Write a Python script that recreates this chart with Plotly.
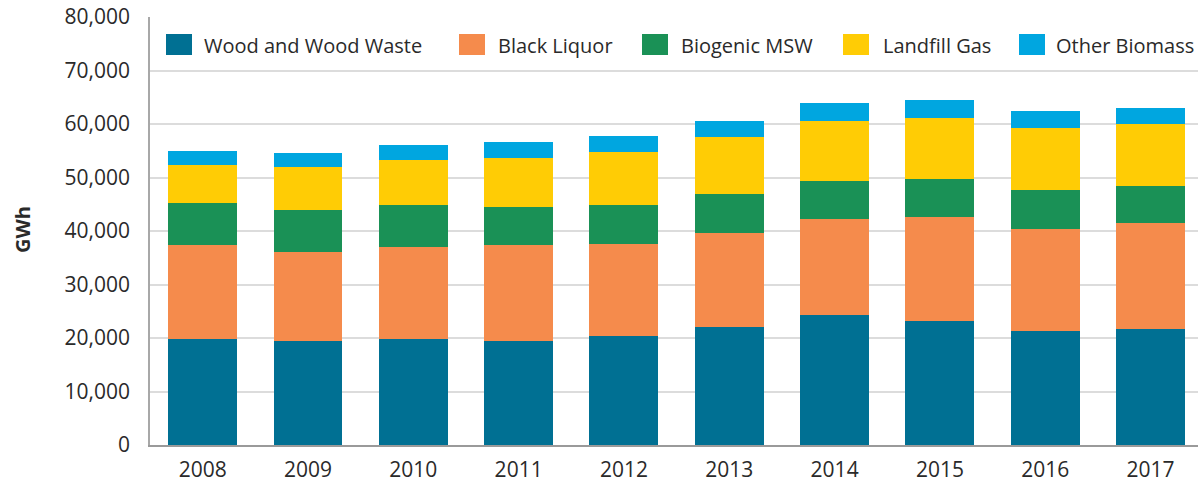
import plotly.graph_objects as go

# Annual biomass electricity generation (GWh), by source
years = ["2008", "2009", "2010", "2011", "2012", "2013", "2014", "2015", "2016", "2017"]

wood_and_wood_waste = [19850, 19480, 19850, 19480, 20290, 21970, 24220, 23220, 21350, 21600]
black_liquor = [17550, 16600, 17230, 17920, 17350, 17730, 18040, 19410, 18980, 19970]
biogenic_msw = [7920, 7800, 7860, 7110, 7300, 7300, 7050, 7060, 7300, 6870]
landfill_gas = [7060, 8120, 8240, 9170, 9800, 10620, 11240, 11360, 11610, 11490]
other_biomass = [2620, 2560, 2810, 2940, 2940, 2990, 3310, 3430, 3180, 3120]

series_names = ["Wood and Wood Waste", "Black Liquor", "Biogenic MSW", "Landfill Gas", "Other Biomass"]
series_values = [wood_and_wood_waste, black_liquor, biogenic_msw, landfill_gas, other_biomass]
series_colors = ["#007093", "#F58B4C", "#1A9156", "#FFCC05", "#00A6E0"]

y_ticks = [0, 10000, 20000, 30000, 40000, 50000, 60000, 70000, 80000]

# Page geometry (px)
W, H = 1198, 480
M_L, M_R, M_T, M_B = 150, 0, 17, 35
plot_w = W - M_L - M_R
plot_h = H - M_T - M_B

TEXT = "#2a2a2a"
FONT = "Open Sans"

fig = go.Figure()
for name, vals, color in zip(series_names, series_values, series_colors):
    fig.add_trace(go.Bar(
        x=years, y=vals, name=name,
        marker=dict(color=color, line=dict(width=0)),
        showlegend=False,
    ))


def px_x(px):
    return (px - M_L) / plot_w


def px_y(py):
    return (H - M_B - py) / plot_h


# Legend row: swatch left edges and label starts (px)
swatch_left = [166, 459, 642, 843, 1019]
label_left = [202, 496, 679, 881, 1054]
sw_w, sw_top, sw_bot = 26, 34, 55
label_mid = 45

shapes = []
annotations = []
for name, color, sx, lx in zip(series_names, series_colors, swatch_left, label_left):
    shapes.append(dict(
        type="rect", xref="paper", yref="paper",
        x0=px_x(sx), x1=px_x(sx + sw_w), y0=px_y(sw_bot), y1=px_y(sw_top),
        fillcolor=color, line=dict(width=0), layer="above",
    ))
    annotations.append(dict(
        text=name, xref="paper", yref="paper",
        x=px_x(lx), y=px_y(label_mid), xanchor="left", yanchor="middle",
        showarrow=False, font=dict(family=FONT, size=20, color=TEXT),
    ))

# Y-axis title
annotations.append(dict(
    text="<b>GWh</b>", xref="paper", yref="paper",
    x=px_x(22), y=px_y(230), xanchor="center", yanchor="middle",
    textangle=-90, showarrow=False,
    font=dict(family=FONT, size=20, color=TEXT),
))

fig.update_layout(
    width=W, height=H,
    margin=dict(l=M_L, r=M_R, t=M_T, b=M_B, pad=0),
    paper_bgcolor="white", plot_bgcolor="white",
    barmode="stack", bargap=0.345,
    font=dict(family=FONT, size=21, color=TEXT),
    shapes=shapes, annotations=annotations,
    xaxis=dict(
        type="category", range=[-0.5, 9.45],
        showgrid=False, showline=True, linecolor="#9a9a9a", linewidth=2,
        ticks="", tickfont=dict(family=FONT, size=21, color=TEXT),
        ticklabelstandoff=5, automargin=False, fixedrange=True,
    ),
    yaxis=dict(
        range=[0, 80000], tickvals=y_ticks, tickformat=",d",
        showgrid=True, gridcolor="#dcdcdc", gridwidth=1.5,
        showline=True, linecolor="#a8a8a8", linewidth=1.5,
        zeroline=False, ticks="", tickfont=dict(family=FONT, size=21, color=TEXT),
        ticklabelstandoff=14, automargin=False, fixedrange=True,
    ),
)

fig.write_html("out.html")
